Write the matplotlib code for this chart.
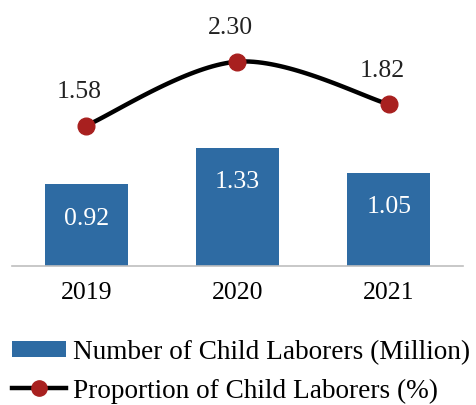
import numpy as np
import matplotlib
matplotlib.use("Agg")
from matplotlib import pyplot as plt
from matplotlib.lines import Line2D

years = ["2019", "2020", "2021"]
laborers = [0.92, 1.33, 1.05]
proportion = [1.58, 2.30, 1.82]

bar_color = "#2E6BA3"
dot_color = "#A8201F"

plt.rcParams["font.family"] = ["Liberation Serif", "DejaVu Serif"]


def smooth(xs, ys, n=40):
    # catmull-rom, like excel's smoothed line
    px = np.concatenate([[xs[0]], xs, [xs[-1]]])
    py = np.concatenate([[ys[0]], ys, [ys[-1]]])
    ox, oy = [], []
    t = np.linspace(0, 1, n)
    for i in range(1, len(px) - 2):
        for p, out in ((px, ox), (py, oy)):
            p0, p1, p2, p3 = p[i - 1], p[i], p[i + 1], p[i + 2]
            out.extend(0.5 * (2 * p1 + (-p0 + p2) * t
                              + (2 * p0 - 5 * p1 + 4 * p2 - p3) * t ** 2
                              + (-p0 + 3 * p1 - 3 * p2 + p3) * t ** 3))
    return np.array(ox), np.array(oy)


fig = plt.figure(figsize=(4.76, 4.06), dpi=100)
ax = fig.add_axes([12 / 476, 1 - 267 / 406, 451 / 476, 231 / 406])

x = np.arange(len(years))
bars = ax.bar(x, laborers, width=0.55, color=bar_color, zorder=2)
for xi, v in zip(x, laborers):
    ax.annotate(f"{v:.2f}", (xi, v), xytext=(0, -24), textcoords="offset points",
                ha="center", va="center", color="white", fontsize=18.5)

sx, sy = smooth(x.astype(float), np.array(proportion, dtype=float))
ax.plot(sx, sy, color="black", lw=3.2, zorder=3, solid_capstyle="round")
ax.plot(x, proportion, "o", color=dot_color, ms=12, zorder=4)
for xi, v in zip(x, proportion):
    ax.annotate(f"{v:.2f}", (xi, v), xytext=(-5, 25), textcoords="offset points",
                ha="center", va="center", color="#222222", fontsize=18.5)

ax.set_xlim(-0.49, 2.49)
ax.set_ylim(0, 2.6)
ax.set_xticks(x)
ax.set_xticklabels(years, fontsize=18.5)
ax.tick_params(axis="x", length=0, pad=11)
ax.set_yticks([])
for s in ["top", "left", "right"]:
    ax.spines[s].set_visible(False)
ax.spines["bottom"].set_color("#BFBFBF")
ax.spines["bottom"].set_linewidth(1.2)

line_proxy = Line2D([], [], color="black", lw=3.2, marker="o", ms=11,
                    mfc=dot_color, mec=dot_color)
fig.legend([bars, line_proxy],
           ["Number of Child Laborers (Million)", "Proportion of Child Laborers (%)"],
           loc="lower left", bbox_to_anchor=(12 / 476, 0.004), frameon=False,
           fontsize=19.6, handlelength=2.0, handleheight=0.55, handletextpad=0.25,
           labelspacing=0.5, borderpad=0, borderaxespad=0)

fig.savefig("out.png", dpi=100)
